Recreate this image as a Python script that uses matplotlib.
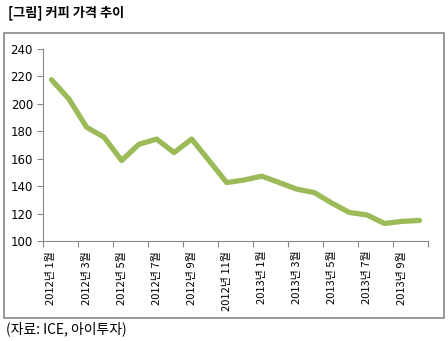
import matplotlib.pyplot as plt
from matplotlib.patches import Rectangle

plt.rcParams['font.family'] = ['Noto Sans CJK KR', 'DejaVu Sans']

# 월별 커피 가격 (2012년 1월 ~ 2013년 10월)
months = ['2012년 1월', '2012년 2월', '2012년 3월', '2012년 4월', '2012년 5월', '2012년 6월',
          '2012년 7월', '2012년 8월', '2012년 9월', '2012년 10월', '2012년 11월', '2012년 12월',
          '2013년 1월', '2013년 2월', '2013년 3월', '2013년 4월', '2013년 5월', '2013년 6월',
          '2013년 7월', '2013년 8월', '2013년 9월', '2013년 10월']
prices = [217.6, 203.5, 183, 175.7, 158.7, 170.6, 174.3, 164.5, 174.3, 158.5, 142.6,
          144.5, 147.3, 142.6, 137.8, 135.3, 127.6, 120.8, 119, 112.8, 114.3, 115]
yticks = [100, 120, 140, 160, 180, 200, 220, 240]

fig = plt.figure(figsize=(4.48, 3.41), dpi=100)
ax = fig.add_axes([42.7 / 448, 1 - 241 / 341, (428.3 - 42.7) / 448, (241 - 49) / 341])

x = list(range(len(months)))
ax.plot(x, prices, color='#9BBB59', linewidth=3.8, solid_capstyle='round', solid_joinstyle='round')

ax.set_xlim(-0.5, len(months) - 0.5)
ax.set_ylim(100, 240)
ax.set_yticks(yticks)
ax.set_yticklabels([str(v) for v in yticks], fontsize=8.5, family=['DejaVu Sans'])

# 눈금은 두 달마다 경계에, 라벨은 홀수 달에
ax.set_xticks([i - 0.5 for i in range(0, len(months) + 1, 2)])
ax.set_xticklabels([])
ax.set_xticks(x[::2], minor=True)
ax.set_xticklabels(months[::2], minor=True, rotation=90, fontsize=8, va='top', ha='center')
ax.tick_params(axis='x', which='minor', length=0, pad=7)
ax.tick_params(axis='x', which='major', length=4, color='#888888')
ax.tick_params(axis='y', length=4, color='#888888', pad=3)

for s in ['top', 'right']:
    ax.spines[s].set_visible(False)
for s in ['left', 'bottom']:
    ax.spines[s].set_color('#888888')

fig.patches.append(Rectangle((4 / 448, 1 - 318 / 341), 440 / 448, 285 / 341,
                             transform=fig.transFigure, fill=False, edgecolor='#888888', lw=1.2))
fig.text(8 / 448, 1 - 13 / 341, '[그림] 커피 가격 추이', fontsize=9.5, fontweight='bold', va='center')
fig.text(6 / 448, 1 - 329 / 341, '(자료: ICE, 아이투자)', fontsize=10, va='center')

fig.savefig('out.png', dpi=100)
